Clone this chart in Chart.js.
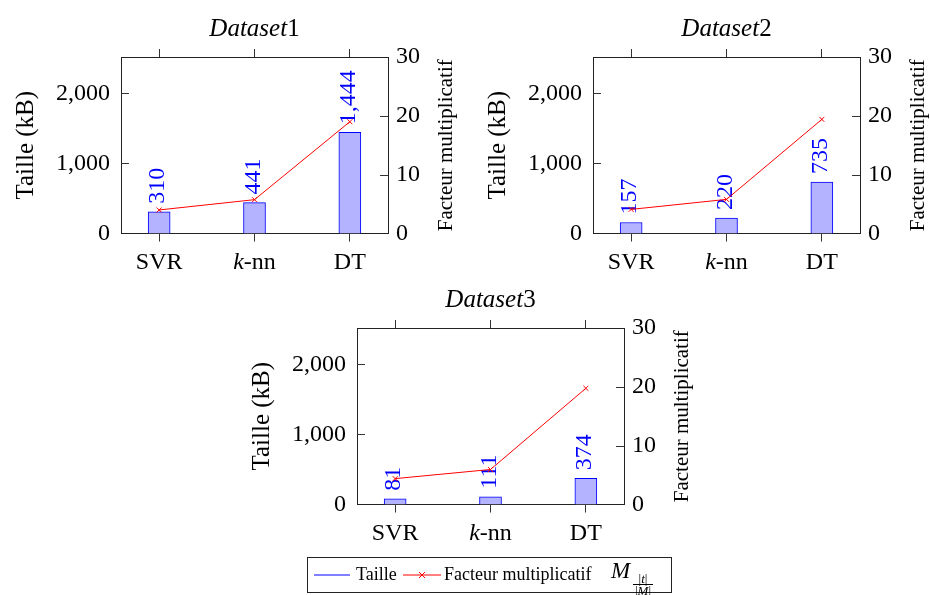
<!DOCTYPE html>
<html>
<head>
<meta charset="utf-8">
<script src="https://cdn.jsdelivr.net/npm/chart.js@4.4.0/dist/chart.umd.min.js"></script>
<style>
  html, body { margin: 0; padding: 0; background: #fff; overflow: hidden; }
  #wrap { position: relative; width: 930px; height: 595px; }
  #wrap canvas { position: absolute; }
  #legend {
    position: absolute; left: 307px; top: 557px; width: 365px; height: 36px;
    box-sizing: border-box; border: 1px solid #222;
    font-family: 'Liberation Serif', 'DejaVu Serif', serif; font-size: 18px; color: #000;
  }
  #legend .it { position: absolute; white-space: nowrap; line-height: 20px; }
  #legend svg { position: absolute; }
  #legend .frac { position: absolute; font-size: 13px; line-height: 9px; text-align: center; }
  #legend .frac span { display: block; padding: 0 2px; white-space: nowrap; }
  #legend .frac .num { border-bottom: 1px solid #000; padding-bottom: 1px; }
  #legend .frac .den { padding-top: 1px; }
</style>
</head>
<body>
<div id="wrap">
  <canvas id="c1" width="458" height="290" style="left:0;top:0"></canvas>
  <canvas id="c2" width="458" height="290" style="left:472px;top:0"></canvas>
  <canvas id="c3" width="458" height="290" style="left:236px;top:271px"></canvas>
  <div id="legend">
    <svg width="36" height="10" style="left:6px;top:12px"><line x1="0" y1="5" x2="36" y2="5" stroke="#0000ff" stroke-width="1"/></svg>
    <span class="it" style="left:48px;top:6px">Taille</span>
    <svg width="38" height="10" style="left:95px;top:12px"><line x1="0" y1="5" x2="38" y2="5" stroke="#ff0000" stroke-width="1"/><path d="M16 2 L22 8 M22 2 L16 8" stroke="#ff0000" stroke-width="1" fill="none"/></svg>
    <span class="it" style="left:136px;top:6px">Facteur multiplicatif</span>
    <span class="it" style="left:303px;top:3px;font-size:23px;font-style:italic">M</span>
    <span class="frac" style="left:325px;top:16px"><span class="num">|<i>t</i>|</span><span class="den">|<i>M</i>|</span></span>
  </div>
</div>
<script>
// Chart data
const categories = ['SVR', 'k-nn', 'DT'];
const titles = ['Dataset1', 'Dataset2', 'Dataset3'];
const size1 = [310, 441, 1444];
const size2 = [157, 220, 735];
const size3 = [81, 111, 374];
const factor1 = [4.0, 5.75, 19.0];
const factor2 = [4.1, 5.8, 19.4];
const factor3 = [4.4, 5.95, 19.75];
const sizeTicks = [0, 1000, 2000];
const factorTicks = [0, 10, 20, 30];
const sizeMax = 2520;
const factorMax = 30;

const serif = "'Liberation Serif', 'DejaVu Serif', serif";
Chart.defaults.color = '#000';
Chart.defaults.font.family = serif;

// split text into italic / upright runs
function richParts(label) {
    if (/^k-/.test(label)) return [{ t: 'k', it: true }, { t: label.slice(1) }];
    const m = label.match(/^(\D+)(\d+)$/);
    if (m) return [{ t: m[1], it: true }, { t: m[2] }];
    return [{ t: label }];
}

function drawRich(ctx, parts, x, y, size) {
    let w = 0;
    parts.forEach(p => {
        ctx.font = (p.it ? 'italic ' : '') + size + 'px ' + serif;
        p.w = ctx.measureText(p.t).width;
        w += p.w;
    });
    let cx = x - w / 2;
    ctx.textAlign = 'left';
    ctx.textBaseline = 'alphabetic';
    parts.forEach(p => {
        ctx.font = (p.it ? 'italic ' : '') + size + 'px ' + serif;
        ctx.fillText(p.t, cx, y);
        cx += p.w;
    });
}

// titles, category labels, axis titles, inner ticks, value labels
const deco = {
    id: 'deco',
    afterDatasetDraw(chart, args) {
        if (chart.data.datasets[args.index].type !== 'bar') return;
        const ctx = chart.ctx;
        const meta = chart.getDatasetMeta(args.index);
        ctx.save();
        ctx.fillStyle = '#0000ff';
        ctx.font = '24px ' + serif;
        ctx.textAlign = 'left';
        ctx.textBaseline = 'alphabetic';
        meta.data.forEach((bar, i) => {
            const v = chart.data.datasets[args.index].data[i].y;
            ctx.save();
            ctx.translate(bar.x + 5, bar.y - 8);
            ctx.rotate(-Math.PI / 2);
            ctx.fillText(v.toLocaleString('en-US'), 0, 0);
            ctx.restore();
        });
        ctx.restore();
    },
    afterDraw(chart, args, opts) {
        const ctx = chart.ctx;
        const a = chart.chartArea;
        const sx = chart.scales.x, sy = chart.scales.y, sy1 = chart.scales.y1;
        ctx.save();
        ctx.fillStyle = '#000';
        // title
        drawRich(ctx, richParts(opts.title), (a.left + a.right) / 2, a.top - 21, 25);
        // category labels
        categories.forEach((c, i) => {
            drawRich(ctx, richParts(c), sx.getPixelForValue(i), a.bottom + 35, 24);
        });
        // inward ticks on the y axes
        ctx.strokeStyle = '#333';
        ctx.lineWidth = 1;
        ctx.beginPath();
        sy.ticks.forEach(t => {
            if (t.value <= sy.min || t.value >= sy.max) return;
            const y = Math.round(sy.getPixelForValue(t.value)) + 0.5;
            ctx.moveTo(a.left, y); ctx.lineTo(a.left + 8, y);
        });
        sy1.ticks.forEach(t => {
            if (t.value <= sy1.min || t.value >= sy1.max) return;
            const y = Math.round(sy1.getPixelForValue(t.value)) + 0.5;
            ctx.moveTo(a.right - 8, y); ctx.lineTo(a.right, y);
        });
        ctx.stroke();
        // axis titles, both reading bottom to top
        const cy = (a.top + a.bottom) / 2;
        ctx.textAlign = 'center';
        ctx.textBaseline = 'middle';
        ctx.save();
        ctx.translate(a.left - 95, cy);
        ctx.rotate(-Math.PI / 2);
        ctx.font = '25px ' + serif;
        ctx.fillText('Taille (kB)', 0, 0);
        ctx.restore();
        ctx.save();
        ctx.translate(a.right + 58, cy);
        ctx.rotate(-Math.PI / 2);
        ctx.font = '21px ' + serif;
        ctx.fillText('Facteur multiplicatif', 0, 0);
        ctx.restore();
        ctx.restore();
    }
};

function xScale(position, height) {
    return {
        type: 'linear',
        position: position,
        min: -0.4,
        max: 2.4,
        offset: false,
        afterBuildTicks: s => { s.ticks = categories.map((c, i) => ({ value: i })); },
        afterFit: s => { s.height = height; },
        ticks: { display: false },
        grid: { offset: false, drawOnChartArea: false, tickLength: 8, tickColor: '#333', tickWidth: 1 },
        border: { color: '#222', width: 1 }
    };
}

function makeChart(id, title, sizes, factors) {
    return new Chart(document.getElementById(id), {
        type: 'bar',
        data: {
            datasets: [{
                type: 'line',
                label: 'Facteur multiplicatif',
                data: categories.map((c, i) => ({ x: i, y: factors[i] })),
                xAxisID: 'x',
                yAxisID: 'y1',
                borderColor: '#ff0000',
                borderWidth: 1,
                pointStyle: 'crossRot',
                pointRadius: 3.5,
                pointBorderColor: '#ff0000',
                pointBorderWidth: 1,
                fill: false,
                tension: 0,
                order: 0
            }, {
                type: 'bar',
                label: 'Taille',
                data: categories.map((c, i) => ({ x: i, y: sizes[i] })),
                xAxisID: 'x',
                yAxisID: 'y',
                backgroundColor: '#b3b3ff',
                borderColor: '#0000ff',
                borderWidth: 1,
                barThickness: 22,
                order: 1
            }]
        },
        options: {
            responsive: false,
            animation: false,
            layout: { padding: 0 },
            plugins: {
                legend: { display: false },
                tooltip: { enabled: false },
                deco: { title: title }
            },
            scales: {
                x: xScale('bottom', 56.5),
                xTop: xScale('top', 57),
                y: {
                    position: 'left',
                    min: 0,
                    max: sizeMax,
                    afterBuildTicks: s => { s.ticks = sizeTicks.map(v => ({ value: v })); },
                    afterFit: s => { s.width = 121; },
                    ticks: { padding: 11, font: { size: 24 }, callback: v => v.toLocaleString('en-US') },
                    grid: { display: false, drawTicks: false },
                    border: { color: '#222', width: 1 }
                },
                y1: {
                    position: 'right',
                    min: 0,
                    max: factorMax,
                    afterBuildTicks: s => { s.ticks = factorTicks.map(v => ({ value: v })); },
                    afterFit: s => { s.width = 70; },
                    ticks: { padding: 8, font: { size: 24 } },
                    grid: { display: false, drawTicks: false },
                    border: { color: '#222', width: 1 }
                }
            }
        },
        plugins: [deco]
    });
}

makeChart('c1', titles[0], size1, factor1);
makeChart('c2', titles[1], size2, factor2);
makeChart('c3', titles[2], size3, factor3);
</script>
</body>
</html>
